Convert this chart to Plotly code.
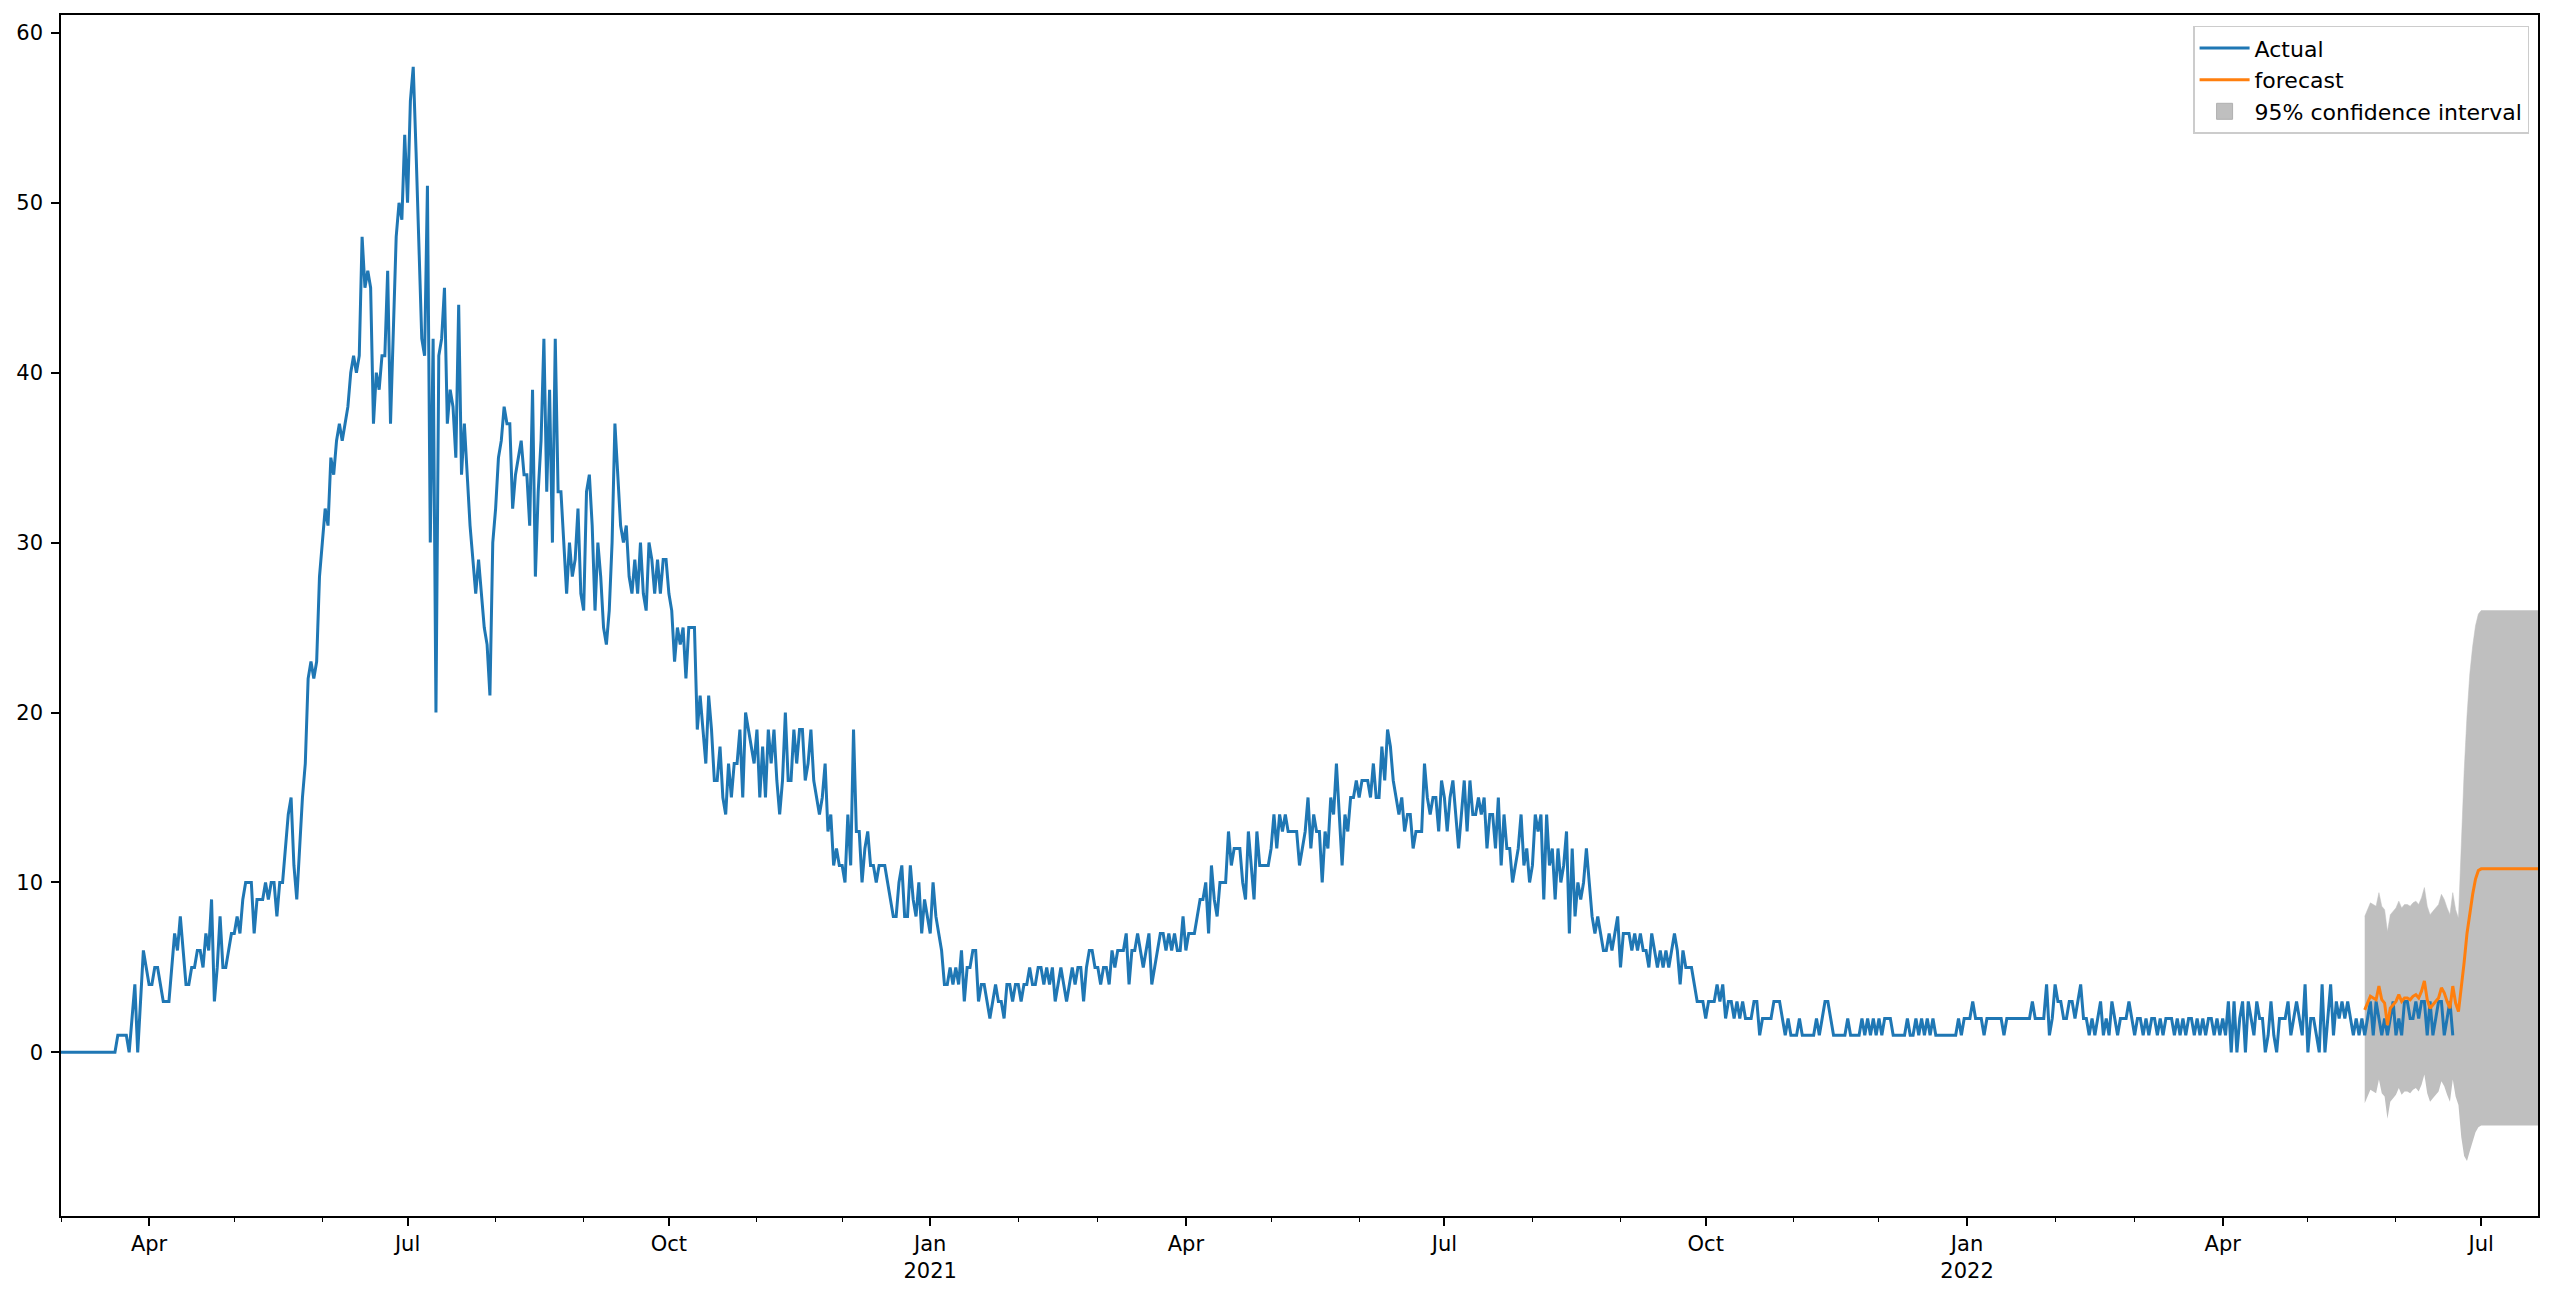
import pandas as pd
import plotly.graph_objects as go

# ---- Actual daily values (Mar 1 2020 .. Jun 21 2022), month by month ----
mar20 = [0,0,0,0,0,0,0,0,0,0, 0,0,0,0,0,0,0,0,0,0, 1,1,1,1,0,2,4,0,3,6,5]
apr20 = [4,4,5,5,4,3,3,3,5,7,6,8,6,4,4,5,5,6,6,5,7,6,9,3,5,8,5,5,6,7]
may20 = [7,8,7,9,10,10,10,7,9,9,9,10,9,10,10,8,10,10,12,14,15,11,9,12,15,17,22,23,22,23,28]
jun20 = [30,32,31,35,34,36,37,36,37,38,40,41,40,41,48,45,46,45,37,40,39,41,41,46,37,42,48,50,49,54]
jul20 = [50,56,58,53,48,42,41,51,30,42,20,41,42,45,37,39,38,35,44,34,37,34,31,29,27,29,27,25,24,21,30]
aug20 = [32,35,36,38,37,37,32,34,35,36,34,34,31,39,28,33,36,42,33,39,30,42,33,33,30,27,30,28,29,32,27]
sep20 = [26,33,34,31,26,30,28,25,24,26,30,37,34,31,30,31,28,27,29,27,30,27,26,30,29,27,29,27,29,29]
oct20 = [27,26,23,25,24,25,22,25,25,25,19,21,19,17,21,19,16,16,18,15,14,17,15,17,17,19,15,20,19,18,17]
nov20 = [19,15,18,15,19,17,19,16,14,16,20,16,16,19,17,19,19,16,17,19,16,15,14,15,17,13,14,11,12,11]
dec20 = [11,10,14,11,19,13,13,10,12,13,11,11,10,11,11,11,10,9,8,8,10,11,8,8,11,9,8,10,7,9,8]
jan21 = [7,10,8,7,6,4,4,5,4,5,4,6,3,5,5,6,6,3,4,4,3,2,3,4,3,3,2,4,4,3,4]
feb21 = [4,3,4,4,5,4,4,5,5,4,5,4,5,3,4,5,4,3,4,5,4,5,5,3,5,6,6,5]
mar21 = [5,4,5,5,4,6,5,6,6,6,7,4,6,6,7,6,5,6,7,4,5,6,7,7,6,7,6,7,6,6,8]
apr21 = [6,7,7,7,8,9,9,10,7,11,9,8,10,10,10,13,11,12,12,12,10,9,13,11,9,13,11,11,11,11]
may21 = [12,14,12,14,13,14,13,13,13,13,11,12,13,15,12,14,13,13,10,13,12,15,14,17,14,11,14,13,15,15,16]
jun21 = [15,16,16,16,15,17,15,15,18,16,19,18,16,15,14,15,13,14,14,12,13,13,13,17,15,14,15,15,13,16]
jul21 = [15,13,15,16,14,12,14,16,13,16,14,14,15,14,15,12,14,14,12,15,11,14,12,12,10,11,12,14,11,12,10]
aug21 = [11,14,13,14,9,14,11,12,9,12,10,11,13,7,12,8,10,9,10,12,10,8,7,8,7,6,6,7,6,7,8]
sep21 = [5,7,7,7,6,7,6,7,6,6,5,7,6,5,6,5,6,5,6,7,6,4,6,5,5,5,4,3,3,3]
oct21 = [2,3,3,3,4,3,4,2,3,3,2,3,2,3,2,2,2,3,3,1,2,2,2,2,3,3,3,2,1,2,1]
nov21 = [1,1,2,1,1,1,1,1,2,1,2,3,3,2,1,1,1,1,1,2,1,1,1,1,2,1,2,1,2,1]
dec21 = [2,1,2,2,2,1,1,1,1,1,2,1,1,2,1,2,1,2,1,2,1,1,1,1,1,1,1,1,2,1,2]
jan22 = [2,2,3,2,2,2,1,2,2,2,2,2,2,1,2,2,2,2,2,2,2,2,2,3,2,2,2,2,4,1,2]
feb22 = [4,3,3,2,2,3,3,2,3,4,2,2,1,2,1,2,3,1,2,1,3,2,1,2,2,2,3,2]
mar22 = [1,2,2,1,2,1,2,2,1,2,1,2,2,2,1,2,1,2,1,2,2,1,2,1,2,1,2,2,1,2,1]
apr22 = [2,1,3,0,3,0,2,3,0,3,2,1,3,2,2,0,1,3,1,0,2,2,2,3,1,2,3,2,1,4]
may22 = [0,2,2,1,0,4,0,2,4,1,3,2,3,2,3,2,1,2,1,2,1,2,3,1,3,2,1,2,1,2,3]
jun22 = [1,2,1,3,3,2,2,3,2,3,3,1,3,1,2,3,3,1,2,3,1]

actual_start = "2020-03-01"
actual = (mar20 + apr20 + may20 + jun20 + jul20 + aug20 + sep20 + oct20 + nov20 + dec20 +
          jan21 + feb21 + mar21 + apr21 + may21 + jun21 + jul21 + aug21 + sep21 + oct21 +
          nov21 + dec21 + jan22 + feb22 + mar22 + apr22 + may22 + jun22)

# ---- Forecast (May 21 2022 .. Jul 21 2022) ----
forecast_start = "2022-05-21"
forecast = [2.5, 2.9, 3.3, 3.2, 3.1, 3.9, 3.1, 2.9, 1.6, 2.6, 2.8, 3.0, 3.4, 3.0, 3.2, 3.2, 3.1,
            3.3, 3.4, 3.2, 3.6, 4.2, 3.1, 2.6, 2.8, 3.0, 3.2, 3.8, 3.5, 3.0, 2.6, 3.9, 2.9, 2.4,
            3.7, 5.3, 7.0, 8.3, 9.3, 10.2, 10.7,
            10.8, 10.8, 10.8, 10.8, 10.8, 10.8, 10.8, 10.8, 10.8, 10.8, 10.8,
            10.8, 10.8, 10.8, 10.8, 10.8, 10.8, 10.8, 10.8, 10.8, 10.8]
ci_upper = [8.0, 8.4, 8.8, 8.7, 8.6, 9.4, 8.6, 8.4, 7.1, 8.1, 8.3, 8.5, 8.9, 8.5, 8.7, 8.7, 8.6,
            8.8, 8.9, 8.7, 9.1, 9.7, 8.6, 8.1, 8.3, 8.5, 8.7, 9.3, 9.0, 8.5, 8.1, 9.4, 8.4, 7.9,
            12.3, 16.5, 19.8, 22.3, 23.9, 25.1, 25.8,
            26.0, 26.0, 26.0, 26.0, 26.0, 26.0, 26.0, 26.0, 26.0, 26.0, 26.0,
            26.0, 26.0, 26.0, 26.0, 26.0, 26.0, 26.0, 26.0, 26.0, 26.0]
ci_lower = [-3.0, -2.6, -2.2, -2.3, -2.4, -1.6, -2.4, -2.6, -3.9, -2.9, -2.7, -2.5, -2.1, -2.5,
            -2.3, -2.3, -2.4, -2.2, -2.1, -2.3, -1.9, -1.3, -2.4, -2.9, -2.7, -2.5, -2.3, -1.7,
            -2.0, -2.5, -2.9, -1.6, -2.6, -3.1,
            -5.0, -6.1, -6.4, -5.8, -5.2, -4.7, -4.4,
            -4.3, -4.3, -4.3, -4.3, -4.3, -4.3, -4.3, -4.3, -4.3, -4.3, -4.3,
            -4.3, -4.3, -4.3, -4.3, -4.3, -4.3, -4.3, -4.3, -4.3, -4.3]

# ---- Axis ticks ----
major_tick_dates = ["2020-04-01", "2020-07-01", "2020-10-01", "2021-01-01", "2021-04-01",
                    "2021-07-01", "2021-10-01", "2022-01-01", "2022-04-01", "2022-07-01"]
major_tick_labels = ["Apr", "Jul", "Oct", "Jan<br>2021", "Apr", "Jul", "Oct", "Jan<br>2022", "Apr", "Jul"]
y_ticks = [0, 10, 20, 30, 40, 50, 60]

actual_dates = pd.date_range(actual_start, periods=len(actual), freq="D")
fc_dates = pd.date_range(forecast_start, periods=len(forecast), freq="D")

FONT = "DejaVu Sans"
BLUE = "#1f77b4"
ORANGE = "#ff7f0e"
GRAY = "#bfbfbf"

fig = go.Figure()
fig.add_trace(go.Scatter(x=fc_dates, y=ci_lower, mode="lines", line=dict(width=0, color=GRAY),
                         showlegend=False, hoverinfo="skip"))
fig.add_trace(go.Scatter(x=fc_dates, y=ci_upper, mode="lines", line=dict(width=0.5, color=GRAY),
                         fill="tonexty", fillcolor=GRAY, showlegend=False, hoverinfo="skip"))
fig.add_trace(go.Scatter(x=actual_dates, y=actual, mode="lines", line=dict(width=3, color=BLUE),
                         name="Actual"))
fig.add_trace(go.Scatter(x=fc_dates, y=forecast, mode="lines", line=dict(width=3, color=ORANGE),
                         name="forecast"))
# legend-only entry for the confidence band (filled box symbol)
fig.add_trace(go.Scatter(x=[None], y=[None], mode="markers",
                         marker=dict(symbol="square", size=18, color=GRAY,
                                     line=dict(width=1, color="#b0b0b0")),
                         name="95% confidence interval"))

axis_common = dict(showline=True, linecolor="black", linewidth=1.6, mirror=True,
                   showgrid=False, zeroline=False, ticks="outside", ticklen=8, tickwidth=1.6,
                   tickcolor="black", tickfont=dict(family=FONT, size=21, color="black"))

fig.update_layout(
    width=2555, height=1295,
    margin=dict(l=61, r=17, t=15, b=73),
    paper_bgcolor="white", plot_bgcolor="white",
    font=dict(family=FONT, size=21, color="black"),
    showlegend=True,
    legend=dict(x=0.9964, y=0.991, xanchor="right", yanchor="top", traceorder="normal",
                bgcolor="rgba(255,255,255,0.8)", bordercolor="#cccccc", borderwidth=1.5,
                itemwidth=50, itemsizing="trace",
                font=dict(family=FONT, size=22, color="black"), tracegroupgap=2),
    xaxis=dict(type="date", range=["2020-03-01", "2022-07-21"],
               tickmode="array", tickvals=major_tick_dates, ticktext=major_tick_labels,
               minor=dict(dtick="M1", tick0="2020-01-01", ticks="outside", ticklen=4.5,
                          tickwidth=1.4, tickcolor="black", showgrid=False),
               **axis_common),
    yaxis=dict(range=[-9.63, 61.05], tickmode="array", tickvals=y_ticks, ticklabelstandoff=4,
               **axis_common),
)

fig.write_html("out.html", include_plotlyjs=True, config={"displayModeBar": False},
               post_script="document.body.style.margin='0';document.body.style.overflow='hidden';")
